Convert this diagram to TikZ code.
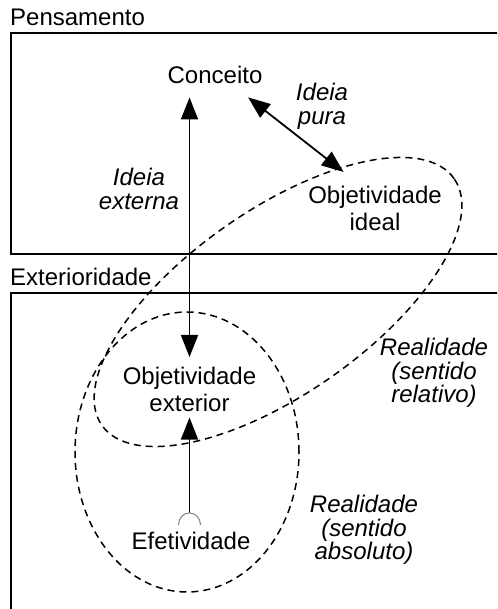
\documentclass[tikz,border=0pt]{standalone}
\usepackage{fontspec}
\setmainfont{Liberation Sans}
\usetikzlibrary{arrows.meta}

\begin{document}
\begin{tikzpicture}[
	x=1pt, y=1pt,
	concept/.style={inner sep=0pt, align=center, font=\fontsize{24}{27}\selectfont},
	gloss/.style={inner sep=0pt, align=center, font=\fontsize{24}{23.5}\selectfont\itshape},
	region/.style={draw, line width=1.8pt},
	realm/.style={draw, line width=1.5pt, dash pattern=on 7pt off 5pt},
	socket/.style={draw, gray, line width=1pt},
	>={Triangle[length=22pt,width=17pt]}
	]
	
	\useasboundingbox (0,0) rectangle (497,609);
	\clip (0,0) rectangle (497,609);
	
	%-----------------------
	% Customizable heights
	%-----------------------
	\def\htop{576}   % top of Pensamento box
	\def\hmid{355}   % bottom of Pensamento box
	\def\hlow{316}   % top of Exterioridade box
	
	%-----------------------
	% The two regions
	%-----------------------
	\draw[region] (11,\htop) rectangle (530,\hmid);
	\draw[region] (11,\hlow) rectangle (530,-30);
	\node[concept, anchor=base west] (pens) at (10,583) {Pensamento};
	\node[concept, anchor=base west] (exter) at (10,323) {Exterioridade};
	
	%-----------------------
	% Concepts
	%-----------------------
	\node[concept, anchor=base] (conc) at (215,525) {Conceito};
	\node[concept, anchor=north] (objid) at (375,423) {Objetividade\\ideal};
	\node[concept, anchor=north] (objext) at (189.5,242.5) {Objetividade\\exterior};
	\node[concept, anchor=base] (efet) at (191,59) {Efetividade};
	
	%-----------------------
	% Glosses
	%-----------------------
	\node[gloss, anchor=north] (pura) at (322,526) {Ideia\\pura};
	\node[gloss, anchor=north] (externa) at (139,441) {Ideia\\externa};
	\node[gloss, anchor=north] (relativo) at (434,271) {Realidade\\(sentido\\relativo)};
	\node[gloss, anchor=north] (absoluto) at (364,114) {Realidade\\(sentido\\absoluto)};
	
	%-----------------------
	% Realidade (relative and absolute)
	%-----------------------
	\draw[realm, rotate around={35:(278,307)}] (278,307) ellipse [x radius=215, y radius=92];
	\draw[realm] (187,157) ellipse [x radius=112, y radius=140];
	
	%-----------------------
	% Connections
	%-----------------------
	\tikzset{connect/.style={line width=1.8pt}}
	
	% Conceito <-> Objetividade exterior
	\draw[connect, <->, shorten <=13pt, shorten >=9.5pt] (objext.north |- conc.south) -- (objext.north);
	
	% Conceito <-> Objetividade ideal
	\draw[connect, <->] ([xshift=-14.4pt,yshift=-13pt]conc.south east) -- ([xshift=35.5pt,yshift=14pt]objid.north west);
	
	% Efetividade -> Objetividade exterior
	\path (objext.south |- efet.north) ++(0,19.5) coordinate (sock);
	\draw[connect, ->, shorten >=6pt] (sock) -- (objext.south);
	\draw[socket] (sock) ++(-11,-12) arc[start angle=180, end angle=0, x radius=11, y radius=12];
	
\end{tikzpicture}
\end{document}
